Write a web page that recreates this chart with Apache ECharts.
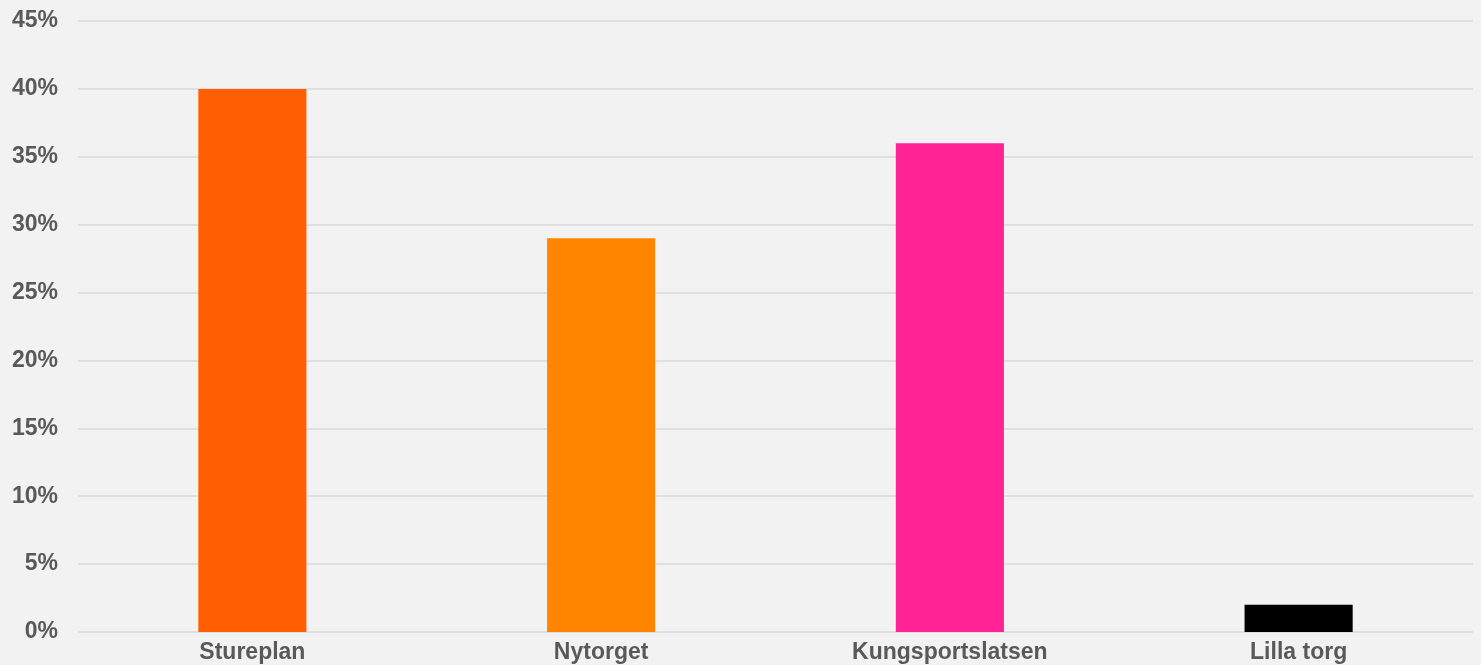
<!DOCTYPE html>
<html>
<head>
<meta charset="utf-8">
<style>
  html, body { margin: 0; padding: 0; background: #f2f2f2; }
  #main { width: 1481px; height: 665px; }
</style>
<script src="https://cdn.jsdelivr.net/npm/echarts@6/dist/echarts.min.js"></script>
</head>
<body>
<div id="main"></div>
<script>
var categories = ['Stureplan', 'Nytorget', 'Kungsportslatsen', 'Lilla torg'];
var values = [40, 29, 36, 2];
var barColors = ['#ff5f00', '#ff8500', '#ff2396', '#000000'];

var myChart = echarts.init(document.getElementById('main'));
var option = {
    backgroundColor: '#f2f2f2',
    grid: { left: 78, right: 8, top: 21, bottom: 33, containLabel: false },
    xAxis: {
        type: 'category',
        data: categories,
        axisLine: { show: false },
        axisTick: { show: false },
        axisLabel: {
            color: '#595959',
            fontFamily: 'Liberation Sans',
            fontWeight: 'bold',
            fontSize: 23,
            margin: 9
        }
    },
    yAxis: {
        type: 'value',
        min: 0,
        max: 45,
        interval: 5,
        axisLine: { show: false },
        axisTick: { show: false },
        splitLine: { lineStyle: { color: '#d9d9d9', width: 1.5 } },
        axisLabel: {
            formatter: '{value}%',
            color: '#595959',
            fontFamily: 'Liberation Sans',
            fontWeight: 'bold',
            fontSize: 23,
            margin: 20
        }
    },
    series: [{
        type: 'bar',
        barWidth: '31%',
        data: values.map(function (v, i) {
            return { value: v, itemStyle: { color: barColors[i] } };
        })
    }]
};
myChart.setOption(option);
</script>
</body>
</html>
